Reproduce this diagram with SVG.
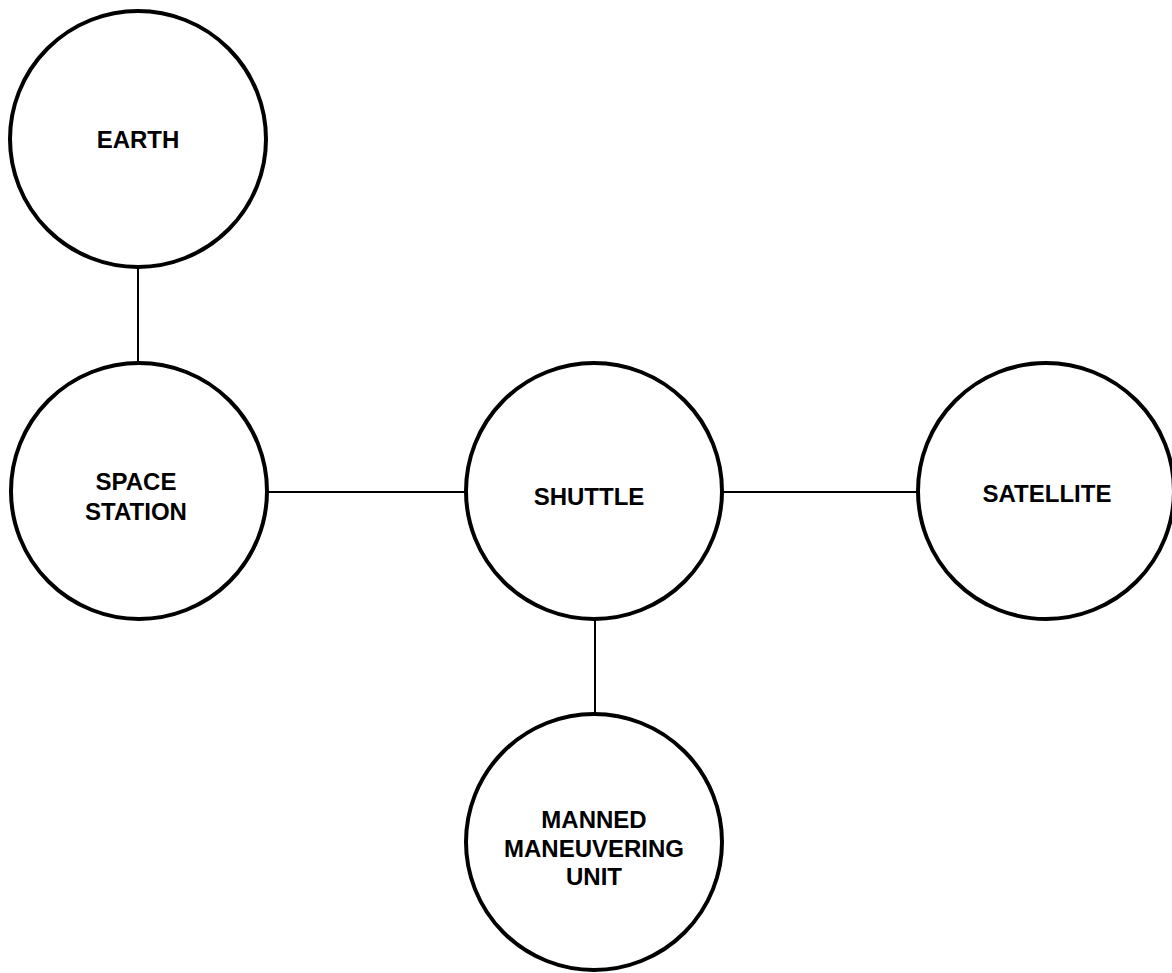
<svg xmlns="http://www.w3.org/2000/svg" width="1172" height="973" viewBox="0 0 1172 973">
<style>
.node{fill:#fff;stroke:#000;stroke-width:4}
.lbl{font-family:"Liberation Sans",Arial,sans-serif;font-weight:bold;font-size:24px;fill:#000;text-anchor:middle}
.conn{stroke:#000;stroke-width:2;fill:none}
</style>
<rect width="1172" height="973" fill="#fff"/>
<g id="connectors">
<line class="conn" x1="138" y1="267" x2="138" y2="363"/>
<line class="conn" x1="267" y1="492" x2="466" y2="492"/>
<line class="conn" x1="722" y1="492" x2="918" y2="492"/>
<line class="conn" x1="595" y1="619" x2="595" y2="714"/>
</g>
<g id="earth">
<circle class="node" cx="138" cy="139" r="128"/>
<text class="lbl" x="138" y="148">EARTH</text>
</g>
<g id="space-station">
<circle class="node" cx="139" cy="491" r="128"/>
<text class="lbl" x="136" y="490">SPACE</text>
<text class="lbl" x="136" y="520">STATION</text>
</g>
<g id="shuttle">
<circle class="node" cx="594" cy="491" r="128"/>
<text class="lbl" x="589" y="505">SHUTTLE</text>
</g>
<g id="satellite">
<circle class="node" cx="1046" cy="491" r="128"/>
<text class="lbl" x="1047" y="502">SATELLITE</text>
</g>
<g id="mmu">
<circle class="node" cx="594" cy="842" r="128"/>
<text class="lbl" x="594" y="828">MANNED</text>
<text class="lbl" x="594" y="857">MANEUVERING</text>
<text class="lbl" x="594" y="885">UNIT</text>
</g>
</svg>
